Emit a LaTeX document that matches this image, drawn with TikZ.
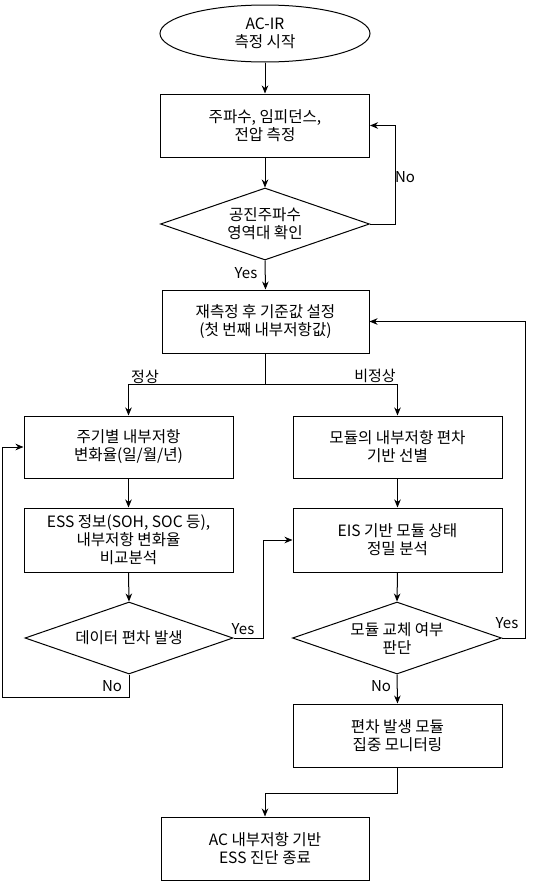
\documentclass[tikz,border=0pt]{standalone}
\usepackage{fontspec}
\setmainfont{Noto Sans CJK KR}
\usetikzlibrary{shapes.geometric,arrows.meta}
\tikzset{
  base/.style={draw=black, line width=1pt, fill=white, align=center, inner sep=0pt,
    font=\fontsize{15.6pt}{18pt}\selectfont},
  procbox/.style={base, rectangle, minimum width=209pt, minimum height=63pt},
  termell/.style={base, ellipse, minimum width=210pt, minimum height=57pt},
  decision/.style={base, diamond, aspect=2.9, minimum width=209pt, minimum height=72pt},
  arr/.style={draw=black, line width=1pt, -{Stealth[length=8pt,width=6.5pt,inset=2.5pt]}},
  lbl/.style={font=\fontsize{15pt}{18pt}\selectfont, inner sep=0pt}
}
\begin{document}
\begin{tikzpicture}[x=1pt,y=-1pt]
\useasboundingbox[fill=white] (0,0) rectangle (545,881);
\node[termell] (start) at (265,33.5) {AC-IR\\측정 시작};
\node[procbox] (m1) at (265,125.5) {주파수, 임피던스,\\전압 측정};
\node[decision] (d1) at (265,224) {공진주파수\\영역대 확인};
\node[procbox, minimum width=207pt] (b2) at (265.5,321.5) {재측정 후 기준값 설정\\(첫 번째 내부저항값)};
\node[procbox, minimum height=62pt] (b3) at (128.5,447) {주기별 내부저항\\변화율(일/월/년)};
\node[procbox, minimum height=64pt] (b4) at (128.5,540) {ESS 정보(SOH, SOC 등),\\내부저항 변화율\\비교분석};
\node[decision, minimum width=208pt] (d2) at (129,638) {데이터 편차 발생};
\node[procbox, minimum height=62pt] (b5) at (397.5,447) {모듈의 내부저항 편차\\기반 선별};
\node[procbox, minimum height=64pt] (b6) at (397.5,540) {EIS 기반 모듈 상태\\정밀 분석};
\node[decision] (d3) at (397,638) {모듈 교체 여부\\판단};
\node[procbox] (b7) at (397.5,735.5) {편차 발생 모듈\\집중 모니터링};
\node[procbox, minimum width=208pt] (b8) at (265,848.5) {AC 내부저항 기반\\ESS 진단 종료};

\coordinate (lx) at (2,697);

\draw[arr] (start.south) -- (m1.north);
\draw[arr] (m1.south) -- (d1.north);
\draw[arr] (d1.east) -- ++(25,0) |- (m1.east);
\draw[arr] (d1.south) -- (b2.north);
\draw[arr] (b2.south) -- ++(0,31) -| (b3.north);
\draw[arr] (b2.south) -- ++(0,31) -| (b5.north);
\draw[arr] (b3.south) -- (b4.north);
\draw[arr] (b4.south) -- (d2.north);
\draw[arr] (d2.east) -- ++(30,0) |- (b6.west);
\draw[arr] (d2.south) |- (lx) |- (b3.west);
\draw[arr] (b5.south) -- (b6.north);
\draw[arr] (b6.south) -- (d3.north);
\draw[arr] (d3.south) -- (b7.north);
\draw[arr] (d3.east) -- ++(23.5,0) |- (b2.east);
\draw[arr] (b7.south) -- ++(0,26) -| (b8.north);

\node[lbl] (lno1) at (405,177) {No};
\node[lbl] (lyes1) at (246,273) {Yes};
\node[lbl] (lnorm) at (145,376.5) {정상};
\node[lbl] (labn) at (375,376) {비정상};
\node[lbl] (lyes2) at (243,629) {Yes};
\node[lbl] (lno2) at (112,686) {No};
\node[lbl] (lyes3) at (507,623) {Yes};
\node[lbl] (lno3) at (381,686) {No};
\end{tikzpicture}
\end{document}
